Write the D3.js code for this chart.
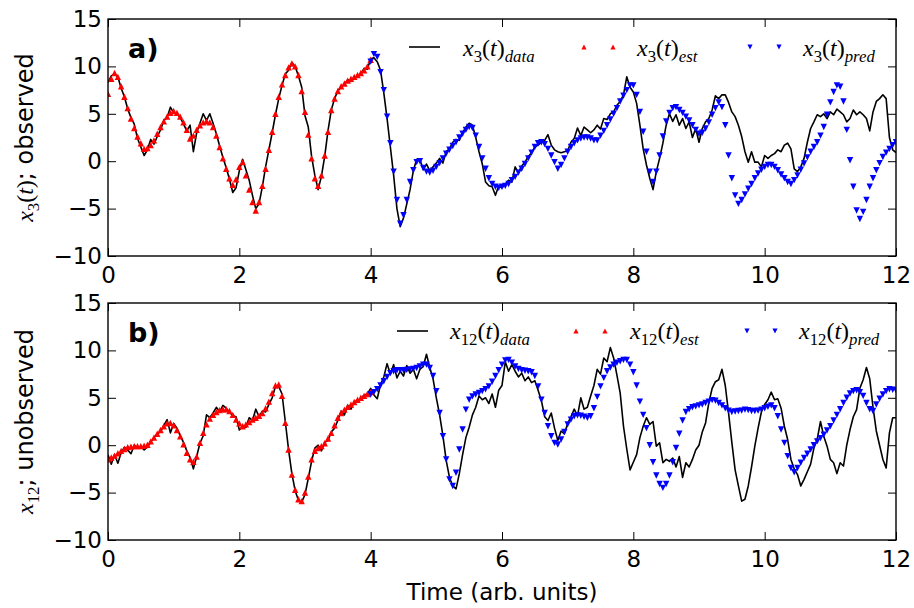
<!DOCTYPE html>
<html>
<head>
<meta charset="utf-8">
<script src="https://cdn.jsdelivr.net/npm/d3@7"></script>
<style>
  body { margin: 0; background: #fff; }
  svg { display: block; font-family: "DejaVu Sans", sans-serif; }
</style>
</head>
<body>
<div id="chart"></div>
<script>
// sampling step of every series, in arb. time units
const DT = 0.05;
const xTicks = [0, 2, 4, 6, 8, 10, 12];
const yTicks = [-10, -5, 0, 5, 10, 15];

// x3 (observed) : data from t=0, estimate from t=0, prediction from t=4
const x3Data = [
  8.3, 9.0, 9.2, 8.9, 7.7, 6.8, 5.5, 4.6, 3.9, 2.4, 1.5, 0.6, 1.2, 2.3, 1.8, 2.6, 3.3, 4.3, 4.6, 5.7,
  5.1, 5.0, 4.6, 3.9, 3.2, 3.8, 1.0, 3.0, 4.0, 5.0, 4.3, 5.0, 4.0, 2.9, 1.6, 0.4, -0.7, -1.9, -3.3, -2.8,
  -1.0, 0.2, -0.9, -2.0, -3.6, -5.0, -4.5, -2.7, -0.6, 1.2, 3.0, 4.9, 6.6, 8.0, 9.2, 9.6, 10.4, 10.0, 9.0, 7.8,
  4.8, 3.6, 0.5, -1.5, -3.0, -1.6, 0.5, 3.2, 5.4, 6.6, 7.4, 7.8, 8.1, 8.6, 8.4, 8.9, 8.9, 9.2, 9.8, 9.7,
  10.8, 10.9, 10.5, 9.6, 7.2, 4.5, 1.5, -1.5, -5.0, -6.9, -6.0, -4.5, -3.0, -1.0, 0.2, 0.2, -0.9, -0.3, -1.0, -0.6,
  -0.2, 0.3, -0.2, 1.0, 1.3, 2.0, 2.3, 2.2, 3.0, 3.6, 4.0, 3.8, 2.5, 1.0, -0.3, -2.2, -2.6, -2.7, -3.6, -2.6,
  -2.8, -2.4, -2.0, -2.2, -0.6, -1.2, -0.5, -0.1, 0.5, 0.9, 1.5, 1.7, 2.0, 2.2, 2.8, 1.7, 1.2, 1.0, 0.9, 1.0,
  1.1, 2.0, 2.4, 3.5, 2.7, 3.6, 3.3, 3.0, 3.3, 3.8, 3.4, 4.5, 4.4, 5.0, 5.2, 5.9, 6.3, 7.0, 8.9, 7.8,
  7.3, 6.1, 3.8, 1.3, -0.4, -1.8, -3.0, -1.1, 0.3, 1.9, 3.8, 5.0, 4.2, 4.9, 3.8, 4.5, 3.45, 4.15, 2.5, 3.45,
  2.0, 3.45, 4.15, 4.5, 5.4, 6.9, 6.6, 7.0, 7.0, 6.2, 5.2, 4.7, 3.8, 2.6, 1.0, -0.1, 1.0, -0.1, -0.1, -0.6,
  0.6, 0.3, 0.6, 0.8, 1.2, 1.0, 1.7, 1.9, 1.3, -0.8, -1.1, -0.6, 0.3, 2.0, 3.45, 4.15, 4.9, 4.7, 5.0, 4.5,
  5.2, 4.9, 5.5, 5.2, 4.9, 4.15, 4.5, 5.4, 4.9, 5.2, 4.9, 4.5, 3.2, 5.2, 6.3, 6.6, 7.0, 6.6, 2.5, 1.2,
  0.9
];
const x3Est = [
  7.1, 8.7, 9.3, 8.9, 7.9, 6.8, 5.6, 4.5, 3.5, 2.6, 1.9, 1.3, 1.4, 1.7, 2.2, 2.9, 3.6, 4.2, 4.7, 5.1,
  5.3, 5.1, 4.7, 4.1, 3.3, 2.4, 2.7, 3.3, 3.8, 4.1, 4.2, 4.1, 3.6, 2.7, 1.5, 0.3, -0.8, -1.8, -2.5, -1.9,
  -0.6, -0.1, -1.5, -3.0, -4.3, -5.2, -4.3, -2.6, -0.8, 1.2, 3.1, 5.0, 6.8, 8.1, 9.1, 9.9, 10.3, 10.0, 9.1, 7.4,
  5.2, 2.8, 0.3, -1.8, -2.6, -1.5, 0.6, 3.1, 5.4, 6.6, 7.4, 7.9, 8.2, 8.5, 8.7, 8.9, 9.1, 9.3, 9.6, 10.0,
  10.7
];
const x3Pred = [
  10.5, 11.3, 11.0, 9.4, 7.5, 4.7, 1.9, -1.1, -4.1, -6.6, -5.7, -4.1, -2.2, -0.95, -0.1, 0.0, -0.7, -1.1, -1.2, -1.0,
  -0.6, -0.2, 0.3, 0.8, 1.2, 1.6, 2.0, 2.5, 2.9, 3.3, 3.6, 3.5, 2.7, 1.5, 0.3, -0.8, -1.8, -2.4, -2.7, -2.8,
  -2.7, -2.6, -2.4, -2.0, -1.65, -1.2, -0.8, -0.3, 0.3, 0.9, 1.5, 1.9, 2.0, 1.8, 1.3, 0.6, -0.1, -0.8, -0.4, 0.3,
  1.0, 1.5, 1.9, 2.2, 2.4, 2.5, 2.5, 2.4, 2.2, 2.2, 2.7, 3.2, 3.8, 4.4, 5.0, 5.6, 6.3, 6.9, 7.5, 8.0,
  8.0, 7.0, 5.2, 3.1, 1.0, -1.1, -2.2, -1.1, 0.6, 2.6, 4.2, 5.1, 5.6, 5.7, 5.4, 5.1, 4.7, 4.3, 3.8, 3.3,
  2.9, 3.0, 3.45, 4.1, 4.9, 5.6, 6.2, 5.7, 3.8, 0.6, -1.8, -3.6, -4.5, -4.1, -3.5, -2.9, -2.4, -1.8, -1.3, -0.9,
  -0.6, -0.4, -0.4, -0.6, -0.95, -1.4, -1.8, -2.2, -2.4, -2.0, -1.5, -0.9, -0.25, 0.4, 1.0, 1.5, 2.0, 2.7, 3.6, 4.9,
  6.2, 7.3, 8.0, 7.85, 6.3, 3.3, 0.1, -2.7, -5.2, -6.1, -5.35, -4.1, -2.7, -1.8, -0.95, -0.2, 0.45, 0.9, 1.3, 1.7,
  2.0
];

// x12 (unobserved)
const x12Data = [
  -1.0, -2.0, -1.0, -1.9, -0.8, -0.2, -0.5, -0.9, 0.0, -0.3, -0.1, -0.5, -0.2, 0.3, 0.8, 1.2, 1.4, 2.1, 2.7, 1.3,
  2.3, 1.8, 1.0, 0.3, -0.6, -1.3, -2.5, -1.2, 0.2, 1.0, 3.2, 2.9, 3.4, 4.0, 3.5, 4.2, 3.9, 3.5, 3.1, 3.0,
  1.6, 2.0, 1.9, 2.9, 2.6, 3.8, 3.0, 3.6, 3.5, 4.3, 5.0, 6.2, 6.2, 5.4, 2.5, -0.5, -3.0, -4.8, -5.8, -6.0,
  -5.2, -3.5, -1.7, -0.3, 0.0, -0.6, 0.3, 0.5, 1.4, 1.8, 2.6, 3.6, 3.2, 4.2, 3.8, 4.6, 4.7, 4.9, 5.3, 5.4,
  6.0, 5.3, 4.9, 6.4, 7.2, 8.6, 7.5, 8.5, 7.1, 7.8, 7.3, 8.4, 7.6, 8.0, 7.0, 8.0, 8.3, 9.6, 8.2, 7.0,
  5.0, 3.2, 1.0, -1.6, -3.4, -4.3, -4.6, -3.0, -1.0, 0.8, 1.9, 3.2, 4.0, 5.2, 4.8, 5.0, 4.4, 5.4, 4.0, 5.8,
  6.3, 8.8, 7.8, 8.5, 7.8, 7.2, 7.6, 6.8, 7.2, 6.6, 6.8, 5.8, 4.7, 3.0, 2.6, 3.4, 1.8, 0.5, 1.5, 1.2,
  2.3, 3.0, 3.8, 3.1, 5.0, 3.8, 4.0, 5.2, 6.3, 8.0, 7.5, 9.2, 8.8, 10.3, 9.2, 7.4, 5.5, 2.0, -0.4, -2.6,
  -1.8, -1.0, 0.8, 2.0, 2.9, 2.2, 2.5, -0.1, 0.25, -1.85, -1.5, -1.7, -1.35, -2.3, -1.2, -3.4, -1.85, -2.3, -1.5, -0.5,
  0.0, 1.4, 2.35, 4.5, 6.0, 6.7, 6.9, 8.0, 6.3, 3.4, 0.3, -2.6, -4.3, -5.9, -5.7, -4.3, -2.3, -0.1, 1.8, 3.5,
  4.3, 4.8, 5.6, 4.8, 4.9, 3.9, 2.0, 0.6, -1.5, -2.5, -3.1, -4.3, -3.6, -2.8, -2.0, -0.3, 0.6, 2.5, 0.95, -0.1,
  -1.5, -1.85, -3.0, -1.85, -2.2, 0.0, 1.65, 3.0, 3.75, 6.0, 6.9, 8.2, 7.0, 4.0, 1.5, 0.0, -1.5, -2.4, 1.3, 2.9,
  2.9
];
const x12Est = [
  -1.5, -1.3, -1.1, -0.85, -0.6, -0.4, -0.2, -0.15, -0.1, -0.1, -0.1, -0.05, 0.05, 0.4, 0.8, 1.2, 1.6, 2.0, 2.3, 2.35,
  2.1, 1.6, 0.95, 0.1, -0.8, -1.5, -1.75, -1.2, 0.25, 1.3, 2.2, 2.8, 3.2, 3.5, 3.7, 3.8, 3.8, 3.6, 3.2, 2.7,
  2.3, 2.0, 2.2, 2.45, 2.7, 2.9, 3.1, 3.4, 3.9, 4.6, 5.5, 6.3, 6.4, 5.2, 2.35, -0.45, -3.1, -4.7, -5.7, -5.9,
  -5.0, -3.3, -1.5, -0.6, -0.3, -0.1, 0.2, 0.7, 1.3, 2.1, 2.9, 3.4, 3.75, 4.05, 4.3, 4.55, 4.8, 5.0, 5.2, 5.4,
  5.6
];
const x12Pred = [
  5.35, 5.6, 5.9, 6.3, 6.75, 7.2, 7.6, 7.8, 7.9, 7.9, 7.9, 7.95, 8.0, 8.05, 8.15, 8.3, 8.5, 8.5, 8.15, 7.3,
  5.7, 3.4, 0.95, -1.5, -3.6, -4.3, -2.9, -0.45, 1.65, 3.75, 4.8, 5.15, 5.35, 5.5, 5.7, 5.9, 6.2, 6.7, 7.3, 7.9,
  8.5, 8.95, 9.0, 8.7, 8.3, 8.05, 7.9, 7.85, 7.8, 7.7, 7.3, 6.2, 4.8, 3.4, 2.0, 0.95, 0.25, 0.07, 0.6, 1.4,
  2.2, 2.7, 3.05, 3.15, 3.1, 3.0, 2.9, 3.05, 3.9, 5.1, 6.2, 7.1, 7.8, 8.2, 8.5, 8.7, 8.85, 9.0, 9.0, 8.5,
  7.7, 6.3, 4.6, 3.2, 1.8, 0.0, -1.8, -3.2, -4.1, -4.5, -4.1, -3.2, -1.8, -0.3, 1.2, 2.6, 3.5, 3.8, 4.0, 4.1,
  4.2, 4.3, 4.45, 4.6, 4.75, 4.7, 4.45, 4.2, 3.9, 3.65, 3.5, 3.55, 3.6, 3.65, 3.75, 3.7, 3.6, 3.6, 3.65, 3.75,
  3.9, 4.05, 4.2, 3.9, 3.05, 1.65, 0.25, -1.15, -2.4, -2.85, -2.4, -1.85, -1.35, -0.9, -0.45, 0.0, 0.4, 0.75, 1.1, 1.55,
  2.0, 2.6, 3.2, 3.8, 4.45, 5.0, 5.45, 5.7, 5.8, 5.6, 5.2, 4.45, 3.8, 3.6, 4.3, 4.9, 5.35, 5.7, 5.9, 5.85,
  5.8
];

const SERIF = "'Liberation Serif', 'DejaVu Serif', serif";
const SANS = "'DejaVu Sans', sans-serif";

const width = 914, height = 608;
const left = 108, plotW = 788, plotH = 237;

const svg = d3.select("#chart").append("svg")
    .attr("width", width)
    .attr("height", height);
svg.append("rect").attr("width", width).attr("height", height).attr("fill", "#fff");

const x = d3.scaleLinear().domain([0, 12]).range([0, plotW]);
const y = d3.scaleLinear().domain([-10, 15]).range([plotH, 0]);

// small helper to write mathtext-ish labels with subscripts
function appendMath(text, parts, size) {
  let cur = 0;
  parts.forEach(p => {
    const off = p.sub ? size * 0.24 : 0;
    text.append("tspan")
        .attr("dy", off - cur)
        .attr("font-size", p.sub ? size * 0.7 : size)
        .attr("font-style", p.it ? "italic" : "normal")
        .attr("font-family", p.sans ? SANS : SERIF)
        .text(p.t);
    cur = off;
  });
}

function mathParts(idx, suffix) {
  return [
    {t: "x", it: true}, {t: idx, sub: true}, {t: "("}, {t: "t", it: true}, {t: ")"},
    {t: suffix, sub: true, it: true}
  ];
}

const upTri = "M0,-3.2L3.2,3.2L-3.2,3.2Z";
const downTri = "M0,3.2L3.2,-3.2L-3.2,-3.2Z";
const legUp = "M0,-2.6L2.6,2.6L-2.6,2.6Z";
const legDown = "M0,2.6L2.6,-2.6L-2.6,-2.6Z";

const panels = [
  {top: 19, tag: "a)", idx: "3", data: x3Data, est: x3Est, pred: x3Pred,
   ylab: [{t: "x", it: true}, {t: "3", sub: true}, {t: "("}, {t: "t", it: true}, {t: ")"}, {t: "; observed", sans: true}],
   leg: {lineX: 301, lineY: 28, textY: 37, t1: 355, r: [476, 505], t2: 529, b: [642, 671], t3: 695}},
  {top: 303, tag: "b)", idx: "12", data: x12Data, est: x12Est, pred: x12Pred,
   ylab: [{t: "x", it: true}, {t: "12", sub: true}, {t: "; unobserved", sans: true}],
   leg: {lineX: 289, lineY: 28, textY: 36, t1: 342, r: [468, 497], t2: 522, b: [639, 667], t3: 691}}
];

panels.forEach((p, k) => {
  const g = svg.append("g").attr("transform", `translate(${left},${p.top})`);

  g.append("clipPath").attr("id", "clip" + k)
    .append("rect").attr("width", plotW).attr("height", plotH);

  const plot = g.append("g").attr("clip-path", `url(#clip${k})`);

  // black data line
  const line = d3.line()
      .x((d, i) => x(i * DT))
      .y(d => y(d));
  plot.append("path")
      .datum(p.data)
      .attr("d", line)
      .attr("fill", "none")
      .attr("stroke", "#000")
      .attr("stroke-width", 1.6)
      .attr("stroke-linejoin", "round");

  // estimate (red up triangles) and prediction (blue down triangles)
  plot.selectAll(".est")
    .data(p.est)
    .join("path")
      .attr("class", "est")
      .attr("d", upTri)
      .attr("fill", "#ff0000")
      .attr("transform", (d, i) => `translate(${x(i * DT)},${y(d)})`);

  plot.selectAll(".pred")
    .data(p.pred)
    .join("path")
      .attr("class", "pred")
      .attr("d", downTri)
      .attr("fill", "#0000ff")
      .attr("transform", (d, i) => `translate(${x(4 + i * DT)},${y(d)})`);

  // axes with inward ticks on all four sides
  const styleAxis = a => {
    a.select(".domain").remove();
    a.selectAll(".tick line").attr("stroke", "#000").attr("stroke-width", 1);
    a.selectAll(".tick text").attr("font-family", SANS).attr("font-size", 23).attr("fill", "#000");
  };
  g.append("g").attr("transform", `translate(0,${plotH})`)
    .call(d3.axisBottom(x).tickValues(xTicks).tickSize(-8).tickPadding(11))
    .call(styleAxis);
  g.append("g")
    .call(d3.axisTop(x).tickValues(xTicks).tickSize(-8).tickFormat(""))
    .call(styleAxis);
  g.append("g")
    .call(d3.axisLeft(y).tickValues(yTicks).tickSize(-8).tickPadding(6))
    .call(styleAxis);
  g.append("g").attr("transform", `translate(${plotW},0)`)
    .call(d3.axisRight(y).tickValues(yTicks).tickSize(-8).tickFormat(""))
    .call(styleAxis);

  g.append("rect")
      .attr("width", plotW).attr("height", plotH)
      .attr("fill", "none").attr("stroke", "#000").attr("stroke-width", 1.4);

  // panel tag
  g.append("text")
      .attr("x", 20).attr("y", 39)
      .attr("font-family", SANS).attr("font-weight", "bold").attr("font-size", 27)
      .text(p.tag);

  // legend
  const L = p.leg;
  g.append("line")
      .attr("x1", L.lineX).attr("x2", L.lineX + 31)
      .attr("y1", L.lineY).attr("y2", L.lineY)
      .attr("stroke", "#000").attr("stroke-width", 1.6);
  appendMath(g.append("text").attr("x", L.t1).attr("y", L.textY), mathParts(p.idx, "data"), 24);
  L.r.forEach(cx => g.append("path").attr("d", legUp).attr("fill", "#ff0000")
      .attr("transform", `translate(${cx},${L.lineY})`));
  appendMath(g.append("text").attr("x", L.t2).attr("y", L.textY), mathParts(p.idx, "est"), 24);
  L.b.forEach(cx => g.append("path").attr("d", legDown).attr("fill", "#0000ff")
      .attr("transform", `translate(${cx},${L.lineY})`));
  appendMath(g.append("text").attr("x", L.t3).attr("y", L.textY), mathParts(p.idx, "pred"), 24);

  // y label
  const yl = svg.append("text")
      .attr("transform", `translate(33,${p.top + plotH / 2}) rotate(-90)`)
      .attr("text-anchor", "middle");
  appendMath(yl, p.ylab, 24);
});

svg.append("text")
    .attr("x", left + plotW / 2).attr("y", 600)
    .attr("text-anchor", "middle")
    .attr("font-family", SANS).attr("font-size", 23)
    .text("Time (arb. units)");
</script>
</body>
</html>
